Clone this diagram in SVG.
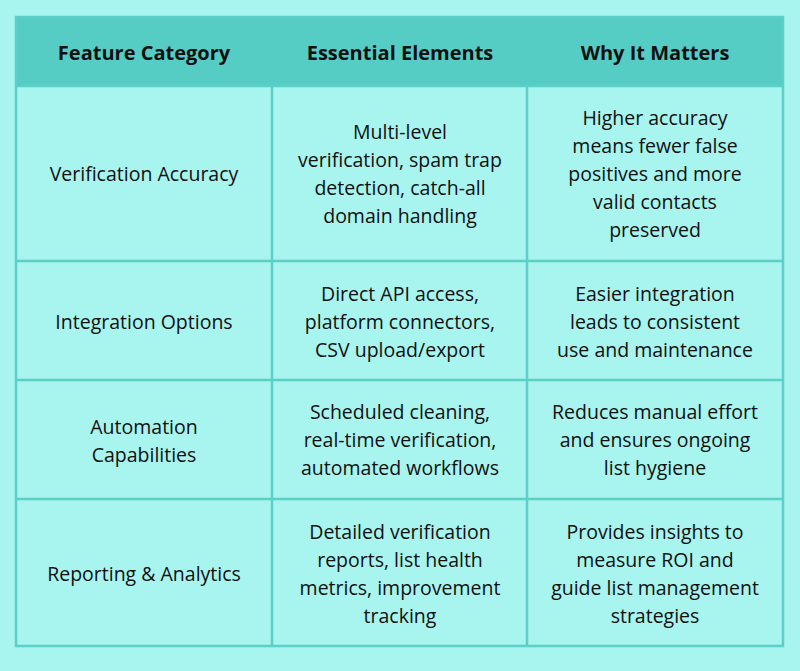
<svg xmlns="http://www.w3.org/2000/svg" width="800" height="671" viewBox="0 0 800 671">
<style>
text{font-family:"Open Sans","Liberation Sans",sans-serif;font-size:19.5px;fill:#111;text-anchor:middle;dominant-baseline:central}
.h{font-weight:bold;font-size:20px}
.g line{stroke:#5ccfc6;stroke-width:2.5}
</style>
<rect width="800" height="671" fill="#a8f4ee"/>
<rect x="16" y="17" width="767" height="69" fill="#56cdc4"/>
<g class="g" id="grid">
<rect x="16" y="17" width="767" height="629" fill="none" stroke="#5ccfc6" stroke-width="2.5"/>
<line x1="16" y1="86" x2="783" y2="86"/>
<line x1="16" y1="261" x2="783" y2="261"/>
<line x1="16" y1="380" x2="783" y2="380"/>
<line x1="16" y1="499" x2="783" y2="499"/>
<line x1="272" y1="86" x2="272" y2="646"/>
<line x1="527" y1="86" x2="527" y2="646"/>
</g>
<g id="header">
<text class="h" x="144" y="52">Feature Category</text>
<text class="h" x="400" y="52">Essential Elements</text>
<text class="h" x="655" y="52">Why It Matters</text>
</g>
<g id="row1">
<text x="144" y="173">Verification Accuracy</text>
<text x="400" y="131">Multi-level</text>
<text x="400" y="159">verification, spam trap</text>
<text x="400" y="187">detection, catch-all</text>
<text x="400" y="215">domain handling</text>
<text x="655" y="117">Higher accuracy</text>
<text x="655" y="145">means fewer false</text>
<text x="655" y="173">positives and more</text>
<text x="655" y="201">valid contacts</text>
<text x="655" y="229">preserved</text>
</g>
<g id="row2">
<text x="144" y="321">Integration Options</text>
<text x="400" y="293">Direct API access,</text>
<text x="400" y="321">platform connectors,</text>
<text x="400" y="349">CSV upload/export</text>
<text x="655" y="293">Easier integration</text>
<text x="655" y="321">leads to consistent</text>
<text x="655" y="349">use and maintenance</text>
</g>
<g id="row3">
<text x="144" y="426">Automation</text>
<text x="144" y="454">Capabilities</text>
<text x="400" y="411">Scheduled cleaning,</text>
<text x="400" y="439">real-time verification,</text>
<text x="400" y="467">automated workflows</text>
<text x="655" y="411">Reduces manual effort</text>
<text x="655" y="439">and ensures ongoing</text>
<text x="655" y="467">list hygiene</text>
</g>
<g id="row4">
<text x="144" y="573">Reporting &amp; Analytics</text>
<text x="400" y="531">Detailed verification</text>
<text x="400" y="559">reports, list health</text>
<text x="400" y="587">metrics, improvement</text>
<text x="400" y="615">tracking</text>
<text x="655" y="531">Provides insights to</text>
<text x="655" y="559">measure ROI and</text>
<text x="655" y="587">guide list management</text>
<text x="655" y="615">strategies</text>
</g>
</svg>
